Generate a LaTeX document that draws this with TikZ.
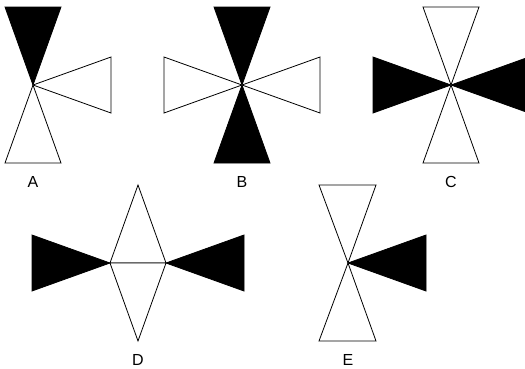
\documentclass[tikz,border=0pt]{standalone}
\usepackage{fontspec}
\setmainfont{Liberation Sans}
\begin{document}
\begin{tikzpicture}[x=1pt,y=-1pt,
  wtri/.style={draw=black,fill=white,line width=0.8pt,line join=miter},
  btri/.style={draw=black,fill=black,line width=0.8pt,line join=miter},
  lbl/.style={font=\fontsize{16}{18}\selectfont,inner sep=0pt}]
\useasboundingbox (0,0) rectangle (525,368);
\clip (0,0) rectangle (525,368);
% Figure A
\coordinate (a) at (33,85);
\draw[btri] (a) -- (5,7) -- (61,7) -- cycle;
\draw[wtri] (a) -- (111,57) -- (111,113) -- cycle;
\draw[wtri] (a) -- (5,163) -- (61,163) -- cycle;
\node[lbl] (la) at (33,182) {A};
% Figure B
\coordinate (b) at (242,85);
\draw[btri] (b) -- (214,7) -- (270,7) -- cycle;
\draw[btri] (b) -- (214,163) -- (270,163) -- cycle;
\draw[wtri] (b) -- (164,57) -- (164,113) -- cycle;
\draw[wtri] (b) -- (320,57) -- (320,113) -- cycle;
\node[lbl] (lb) at (242,182) {B};
% Figure C
\coordinate (c) at (451,85);
\draw[btri] (c) -- (373,57) -- (373,113) -- cycle;
\draw[btri] (c) -- (529,57) -- (529,113) -- cycle;
\draw[wtri] (c) -- (423,7) -- (479,7) -- cycle;
\draw[wtri] (c) -- (423,163) -- (479,163) -- cycle;
\node[lbl] (lc) at (451,182) {C};
% Figure D
\coordinate (d1) at (110,263);
\coordinate (d2) at (166,263);
\draw[btri] (d1) -- (32,235) -- (32,291) -- cycle;
\draw[btri] (d2) -- (244,235) -- (244,291) -- cycle;
\draw[wtri] (d1) -- (138,185) -- (d2) -- cycle;
\draw[wtri] (d1) -- (138,341) -- (d2) -- cycle;
\node[lbl] (ld) at (138,360) {D};
% Figure E
\coordinate (e) at (348,263);
\draw[wtri] (e) -- (319,185) -- (376,185) -- cycle;
\draw[wtri] (e) -- (319,341) -- (376,341) -- cycle;
\draw[btri] (e) -- (426,235) -- (426,291) -- cycle;
\node[lbl] (le) at (348,360) {E};
\end{tikzpicture}
\end{document}
